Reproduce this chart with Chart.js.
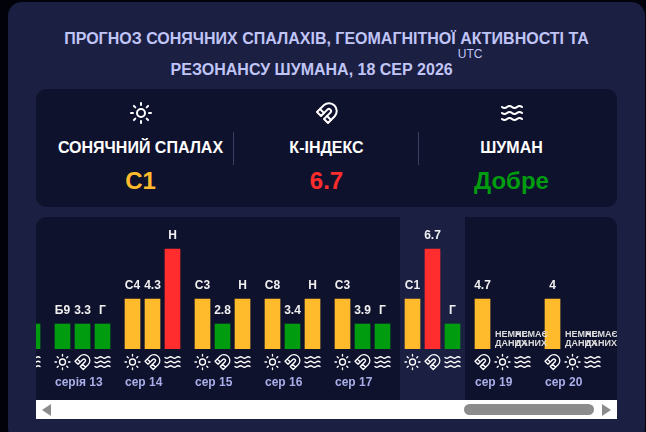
<!DOCTYPE html>
<html>
<head>
<meta charset="utf-8">
<script src="https://cdn.jsdelivr.net/npm/chart.js@4"></script>
<style>
  html, body { margin: 0; height: 100%; background: #02030a; overflow: hidden; font-family: "Liberation Sans", Arial, sans-serif; }
  .card { position: absolute; left: 8px; top: 2px; width: 637px; height: 440px; background: #1b1f42; border-radius: 14px; }
  .title { position: absolute; left: 36px; width: 581px; top: 23px; color: #c0c5f7; font-size: 16px; font-weight: bold; line-height: 31px; text-align: center; }
  .title sup { font-size: 12px; font-weight: normal; line-height: 0; margin-left: 5px; position: relative; vertical-align: 17px; }
  .summary { position: absolute; left: 36px; top: 89px; width: 581px; height: 118px; background: #0f122d; border-radius: 10px; }
  .col { position: absolute; top: 0; width: 185px; text-align: center; color: #fff; }
  .col svg { position: absolute; left: 81px; top: 12px; }
  .col .name { position: absolute; width: 100%; top: 50px; font-size: 16px; font-weight: bold; }
  .col .val { position: absolute; width: 100%; top: 78px; font-size: 24px; font-weight: bold; }
  .sep { position: absolute; top: 43px; width: 1px; height: 33px; background: #3a3e60; }
  .wrap { position: absolute; left: 36px; top: 217px; width: 581px; height: 183px; background: #0f122d; border-radius: 10px 10px 0 0; overflow: hidden; }
  .bar { position: absolute; left: 36px; top: 400px; width: 581px; height: 19px; background: #fff; }
  .thumb { position: absolute; left: 428px; top: 4px; width: 130px; height: 11px; background: #8c8c8c; border-radius: 6px; }
  .arr { position: absolute; top: 4px; width: 0; height: 0; border-top: 6px solid transparent; border-bottom: 6px solid transparent; }
</style>
</head>
<body>
<div class="card"></div>
<div class="title">ПРОГНОЗ СОНЯЧНИХ СПАЛАХІВ, ГЕОМАГНІТНОЇ АКТИВНОСТІ ТА<br>РЕЗОНАНСУ ШУМАНА, 18 СЕР 2026<sup>UTC</sup></div>
<div class="summary">
  <div class="col" style="left:12px">
    <svg width="24" height="24" viewBox="0 0 24 24" fill="none" stroke="#fff" stroke-width="2" stroke-linecap="round" stroke-linejoin="round"><circle cx="12" cy="12" r="4"/><path d="M12 2v2M12 20v2M4.93 4.93l1.41 1.41M17.66 17.66l1.41 1.41M2 12h2M20 12h2M6.34 17.66l-1.41 1.41M19.07 4.93l-1.41 1.41"/></svg>
    <div class="name">СОНЯЧНИЙ СПАЛАХ</div><div class="val" style="color:#ffbb2c">С1</div>
  </div>
  <div class="sep" style="left:197px"></div>
  <div class="col" style="left:198px">
    <svg width="24" height="24" viewBox="0 0 24 24" fill="none" stroke="#fff" stroke-width="2" stroke-linecap="round" stroke-linejoin="round"><path d="m6 15-4-4 6.75-6.77a7.79 7.79 0 0 1 11 11L13 22l-4-4 6.39-6.36a2.11 2.11 0 0 0-3-3L6 15"/><path d="m5 8 4 4"/><path d="m12 15 4 4"/></svg>
    <div class="name">К-ІНДЕКС</div><div class="val" style="color:#ff2d2d">6.7</div>
  </div>
  <div class="sep" style="left:382px"></div>
  <div class="col" style="left:383px">
    <svg width="24" height="24" viewBox="0 0 24 24" fill="none" stroke="#fff" stroke-width="2" stroke-linecap="round" stroke-linejoin="round"><path d="M2 6c.6.5 1.2 1 2.5 1C7 7 7 5 9.5 5c2.6 0 2.4 2 5 2 2.5 0 2.5-2 5-2 1.3 0 1.9.5 2.5 1"/><path d="M2 12c.6.5 1.2 1 2.5 1 2.5 0 2.5-2 5-2 2.6 0 2.4 2 5 2 2.5 0 2.5-2 5-2 1.3 0 1.9.5 2.5 1"/><path d="M2 18c.6.5 1.2 1 2.5 1 2.5 0 2.5-2 5-2 2.6 0 2.4 2 5 2 2.5 0 2.5-2 5-2 1.3 0 1.9.5 2.5 1"/></svg>
    <div class="name">ШУМАН</div><div class="val" style="color:#009c10">Добре</div>
  </div>
</div>
<div class="wrap"><canvas id="myChart"></canvas></div>
<div class="bar">
  <div class="arr" style="left:6px;border-right:9px solid #8c8c8c"></div>
  <div class="thumb"></div>
  <div class="arr" style="left:566px;border-left:9px solid #8c8c8c"></div>
</div>
<script>
const dayLabels = ["сер 12", "серія 13", "сер 14", "сер 15", "сер 16", "сер 17", "сер 18", "сер 19", "сер 20"];
const dayPositions = [-1, 0, 1, 2, 3, 4, 5, 6, 7];
const barLevels = [
  [null, null, 1],
  [1, 1, 1],
  [2, 2, 4],
  [2, 1, 2],
  [2, 1, 2],
  [2, 1, 1],
  [2, 4, 1],
  [2, null, null],
  [2, null, null],
];
// "" marks a slot with no data, null a slot scrolled out of view
const barTexts = [
  [null, null, "Г"],
  ["Б9", "3.3", "Г"],
  ["С4", "4.3", "Н"],
  ["С3", "2.8", "Н"],
  ["С8", "3.4", "Н"],
  ["С3", "3.9", "Г"],
  ["С1", "6.7", "Г"],
  ["4.7", "", ""],
  ["4", "", ""],
];
const slotIcons = [
  ["sun", "magnet", "waves"],
  ["sun", "magnet", "waves"],
  ["sun", "magnet", "waves"],
  ["sun", "magnet", "waves"],
  ["sun", "magnet", "waves"],
  ["sun", "magnet", "waves"],
  ["sun", "magnet", "waves"],
  ["magnet", "sun", "waves"],
  ["magnet", "sun", "waves"],
];
const currentDay = "сер 18";
const levelColors = { 1: "#009c10", 2: "#ffbb2c", 4: "#ff2d2d" };
const noData = ["НЕМАЄ", "ДАНИХ"];

const GROUP = 3.5; // group period in slots
const slotX = (day, slot) => dayPositions[day] * GROUP + slot;

const points = [];
barLevels.forEach((levels, day) => {
  levels.forEach((y, slot) => {
    points.push({ x: slotX(day, slot), y, text: barTexts[day][slot], icon: slotIcons[day][slot] });
  });
});

const iconPaths = {
  sun: new Path2D("M16 12a4 4 0 1 1-8 0 4 4 0 0 1 8 0M12 2v2M12 20v2M4.93 4.93l1.41 1.41M17.66 17.66l1.41 1.41M2 12h2M20 12h2M6.34 17.66l-1.41 1.41M19.07 4.93l-1.41 1.41"),
  magnet: new Path2D("m6 15-4-4 6.75-6.77a7.79 7.79 0 0 1 11 11L13 22l-4-4 6.39-6.36a2.11 2.11 0 0 0-3-3L6 15m-1-7 4 4m3 3 4 4"),
  waves: new Path2D("M2 6c.6.5 1.2 1 2.5 1C7 7 7 5 9.5 5c2.6 0 2.4 2 5 2 2.5 0 2.5-2 5-2 1.3 0 1.9.5 2.5 1M2 12c.6.5 1.2 1 2.5 1 2.5 0 2.5-2 5-2 2.6 0 2.4 2 5 2 2.5 0 2.5-2 5-2 1.3 0 1.9.5 2.5 1M2 18c.6.5 1.2 1 2.5 1 2.5 0 2.5-2 5-2 2.6 0 2.4 2 5 2 2.5 0 2.5-2 5-2 1.3 0 1.9.5 2.5 1"),
};

const drawIcon = (ctx, name, x, y) => {
  ctx.save();
  ctx.translate(x - 9, y - 9);
  ctx.scale(18 / 24, 18 / 24);
  ctx.strokeStyle = "#fff";
  ctx.lineWidth = 1.8;
  ctx.lineCap = "round";
  ctx.lineJoin = "round";
  ctx.stroke(iconPaths[name]);
  ctx.restore();
};

const decorations = {
  id: "decorations",
  beforeDatasetsDraw(chart) {
    const { ctx, scales: { x }, height } = chart;
    const day = dayLabels.indexOf(currentDay);
    const left = x.getPixelForValue(slotX(day, 0)) - 12.5;
    const right = x.getPixelForValue(slotX(day, 2)) + 12.5;
    ctx.save();
    ctx.fillStyle = "#1b1f42";
    ctx.fillRect(left, 0, right - left, height);
    ctx.restore();
  },
  afterDatasetsDraw(chart) {
    const { ctx, scales: { x, y }, chartArea } = chart;
    ctx.save();
    ctx.beginPath();
    ctx.rect(chartArea.left, 0, chartArea.right - chartArea.left, chart.height);
    ctx.clip();
    ctx.textBaseline = "middle";
    points.forEach((p) => {
      const px = x.getPixelForValue(p.x);
      drawIcon(ctx, p.icon, px, 145);
      if (p.y !== null) {
        ctx.font = "bold 12px 'Liberation Sans'";
        ctx.fillStyle = "#f0f0f0";
        ctx.textAlign = "center";
        ctx.fillText(p.text, px, y.getPixelForValue(p.y) - 13);
      } else if (p.text === "") {
        ctx.font = "bold 9px 'Liberation Sans'";
        ctx.fillStyle = "#dcdcdc";
        ctx.textAlign = "left";
        ctx.fillText(noData[0], px - 7.5, 118);
        ctx.fillText(noData[1], px - 7.5, 127);
      }
    });
    ctx.restore();
  },
};

const canvasEl = document.getElementById("myChart");
const myChart = new Chart(canvasEl.getContext("2d"), {
  type: "bar",
  data: {
    datasets: [
      {
        data: points,
        barThickness: 15,
        backgroundColor: (c) => levelColors[c.raw && c.raw.y],
      },
    ],
  },
  options: {
    responsive: true,
    maintainAspectRatio: false,
    animation: false,
    parsing: false,
    layout: { padding: 0 },
    plugins: { legend: { display: false }, tooltip: { enabled: false } },
    scales: {
      x: {
        type: "linear",
        min: -1.325,
        max: 27.725,
        offset: false,
        grid: { display: false },
        border: { display: false },
        afterBuildTicks(axis) {
          axis.ticks = dayPositions.filter((d) => d >= 0).map((d) => ({ value: d * GROUP - 0.375 }));
        },
        ticks: {
          align: "start",
          autoSkip: false,
          maxRotation: 0,
          padding: 18,
          color: "#a9aee8",
          font: { family: "Liberation Sans", size: 12, weight: "bold" },
          callback(value) {
            const i = Math.round((value + 0.375) / GROUP);
            return dayLabels[i + 1];
          },
        },
        afterFit(axis) {
          axis.height = 51;
          axis.paddingLeft = 0;
          axis.paddingRight = 0;
        },
      },
      y: {
        display: false,
        min: 0,
        max: 5.28,
      },
    },
  },
  plugins: [decorations],
});
</script>
</body>
</html>
